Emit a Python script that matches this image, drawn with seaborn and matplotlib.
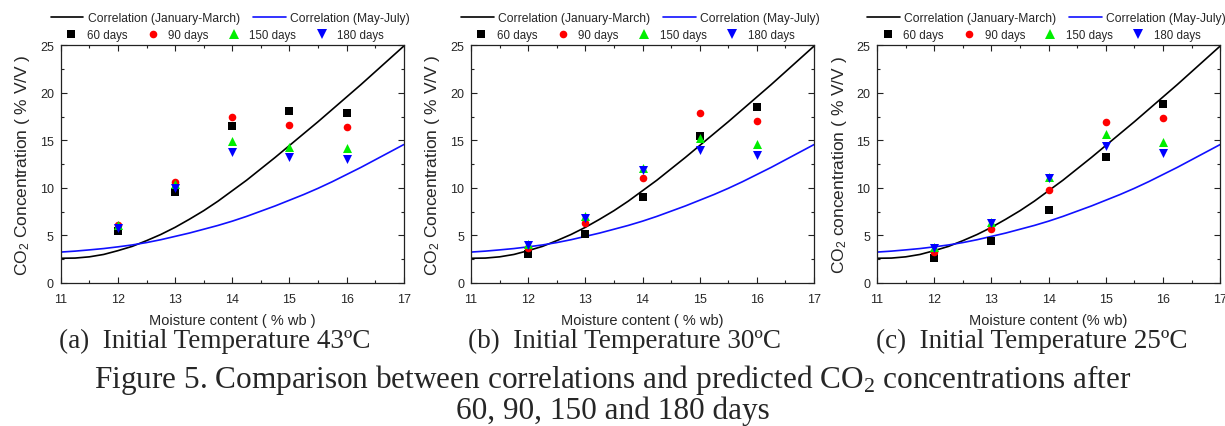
import matplotlib
matplotlib.use("Agg")
import matplotlib.pyplot as plt
from matplotlib.lines import Line2D
from matplotlib.ticker import MultipleLocator
import seaborn as sns
import pandas as pd

# ---------------- data ----------------
mc_grid = [11.0, 11.25, 11.5, 11.75, 12.0, 12.25, 12.5, 12.75, 13.0, 13.25, 13.5, 13.75,
           14.0, 14.25, 14.5, 14.75, 15.0, 15.25, 15.5, 15.75, 16.0, 16.25, 16.5, 16.75, 17.0]
corr_jan_mar = [2.60, 2.62, 2.75, 3.00, 3.40, 3.85, 4.45, 5.10, 5.85, 6.70, 7.60, 8.60,
                9.70, 10.80, 12.00, 13.20, 14.45, 15.70, 16.95, 18.25, 19.55, 20.85, 22.20, 23.55, 24.90]
corr_may_jul = [3.25, 3.35, 3.48, 3.62, 3.80, 4.00, 4.25, 4.55, 4.90, 5.25, 5.65, 6.05,
                6.50, 7.00, 7.55, 8.10, 8.70, 9.30, 9.95, 10.65, 11.40, 12.15, 12.95, 13.75, 14.55]

moisture = [12, 13, 14, 15, 16]
series_names = ["60 days", "90 days", "150 days", "180 days"]

# panel (a) 43 C
a_60 = [5.5, 9.55, 16.45, 18.1, 17.85]
a_90 = [6.1, 10.6, 17.45, 16.65, 16.4]
a_150 = [6.1, 10.4, 14.9, 14.3, 14.15]
a_180 = [5.8, 9.95, 13.75, 13.2, 13.05]
# panel (b) 30 C
b_60 = [3.0, 5.2, 9.0, 15.45, 18.5]
b_90 = [3.65, 6.35, 11.05, 17.9, 17.0]
b_150 = [4.1, 7.0, 12.1, 15.25, 14.6]
b_180 = [3.95, 6.85, 11.9, 14.0, 13.5]
# panel (c) 25 C
c_60 = [2.6, 4.45, 7.7, 13.2, 18.8]
c_90 = [3.25, 5.65, 9.75, 16.9, 17.3]
c_150 = [3.8, 6.4, 11.1, 15.65, 14.85]
c_180 = [3.65, 6.3, 11.0, 14.4, 13.65]

panel_data = [[a_60, a_90, a_150, a_180],
              [b_60, b_90, b_150, b_180],
              [c_60, c_90, c_150, c_180]]
ylabels = ["CO$_2$ Concentration ( % V/V )", "CO$_2$ Concentration ( % V/V )",
           "CO$_2$ concentration ( % V/V )"]
xlabels = ["Moisture content ( % wb )", "Moisture content ( % wb)", "Moisture content (% wb)"]
captions = ["(a)  Initial Temperature 43ºC", "(b)  Initial Temperature 30ºC",
            "(c)  Initial Temperature 25ºC"]
fig_caption_1 = "Figure 5. Comparison between correlations and predicted CO$_2$ concentrations after"
fig_caption_2 = "60, 90, 150 and 180 days"
line_labels = ["Correlation (January-March)", "Correlation (May-July)"]

# ---------------- style ----------------
sns.set_style("ticks")
plt.rcParams["font.family"] = ["Liberation Sans", "DejaVu Sans"]
plt.rcParams["mathtext.default"] = "regular"

marker_styles = ["s", "o", "^", "v"]
marker_colors = ["#000000", "#ff0000", "#00ee00", "#0000ff"]
marker_sizes = [26, 30, 42, 42]
legend_msizes = [5.5, 5.5, 6.5, 6.5]
line_colors = ["#000000", "#1010ff"]

fig = plt.figure(figsize=(12.25, 4.27), dpi=100)
lefts = [0.0496, 0.3845, 0.716]

for i in range(3):
    ax = fig.add_axes([lefts[i], 0.3349, 0.280, 0.557])
    curve_df = pd.DataFrame({"mc": mc_grid, "jan": corr_jan_mar, "may": corr_may_jul})
    sns.lineplot(data=curve_df, x="mc", y="jan", ax=ax, color=line_colors[0], lw=1.2,
                 estimator=None, sort=False)
    sns.lineplot(data=curve_df, x="mc", y="may", ax=ax, color=line_colors[1], lw=1.2,
                 estimator=None, sort=False)
    for k in range(4):
        sns.scatterplot(x=moisture, y=panel_data[i][k], ax=ax, marker=marker_styles[k],
                        color=marker_colors[k], s=marker_sizes[k], linewidth=0, zorder=3)

    ax.set_xlim(11, 17)
    ax.set_ylim(0, 25)
    ax.xaxis.set_major_locator(MultipleLocator(1))
    ax.xaxis.set_minor_locator(MultipleLocator(0.5))
    ax.yaxis.set_major_locator(MultipleLocator(5))
    ax.yaxis.set_minor_locator(MultipleLocator(2.5))
    ax.tick_params(which="both", direction="in", top=True, right=True, width=0.8,
                   labelsize=9, color="#222222")
    ax.tick_params(which="major", length=4)
    ax.tick_params(which="minor", length=2)
    ax.tick_params(axis="x", which="major", pad=7)
    ax.tick_params(axis="y", which="major", pad=5)
    for sp in ax.spines.values():
        sp.set_visible(True)
        sp.set_linewidth(0.9)
        sp.set_color("#222222")

    ax.set_xlabel(xlabels[i], fontsize=10.5)
    ax.set_ylabel(ylabels[i], fontsize=12.5)
    ax.xaxis.set_label_coords(0.5, -0.155)
    ax.yaxis.set_label_coords(-0.111, 0.5)
    ax.xaxis.label.set_va("center")
    ax.yaxis.label.set_va("center")

    lh = [Line2D([], [], color=line_colors[0], lw=1.2),
          Line2D([], [], color=line_colors[1], lw=1.2)]
    leg1 = ax.legend(lh, line_labels, loc="center", bbox_to_anchor=(0.494, 1.113),
                     ncol=2, frameon=False, fontsize=8.7, handlelength=2.7,
                     handletextpad=0.35, columnspacing=1.1, borderpad=0, borderaxespad=0)
    ax.add_artist(leg1)
    mh = [Line2D([], [], ls="none", marker=marker_styles[k], color=marker_colors[k],
                 markersize=legend_msizes[k], markeredgewidth=0) for k in range(4)]
    ax.legend(mh, series_names, loc="center", bbox_to_anchor=(0.478, 1.042),
              ncol=4, frameon=False, fontsize=8.3, handlelength=1.0,
              handletextpad=0.85, columnspacing=1.7, borderpad=0, borderaxespad=0)

cap_x = [214.5 / 1225, 625 / 1225, 1032 / 1225]
for i in range(3):
    fig.text(cap_x[i], 1 - 341 / 427, captions[i], ha="center", va="center",
             fontsize=19.5, family=["Liberation Serif", "DejaVu Serif"])

fig.text(0.5, 1 - 388 / 427, fig_caption_1, ha="center", va="baseline",
         fontsize=22.5, family=["Liberation Serif", "DejaVu Serif"])
fig.text(0.5, 1 - 419 / 427, fig_caption_2, ha="center", va="baseline",
         fontsize=22.5, family=["Liberation Serif", "DejaVu Serif"])

fig.savefig("out.png", dpi=100)
